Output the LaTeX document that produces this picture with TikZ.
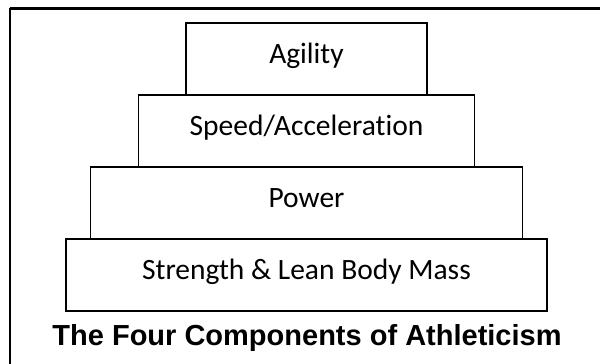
\documentclass[tikz,border=0pt]{standalone}
\usepackage{fontspec}
\setmainfont{Carlito}[RawFeature=-liga]
\newfontfamily\titlefont{Liberation Sans}
\usetikzlibrary{positioning}

\begin{document}
\begin{tikzpicture}[x=1pt, y=-1pt]

    % --- Global Settings ---
    \tikzset{
        tierbox/.style={draw, line width=1.3pt, inner sep=0pt, outer sep=0pt,
                        font=\fontsize{29.5}{34}\selectfont,
                        text height=40pt, text depth=32pt},
        captiontext/.style={font=\titlefont\bfseries\fontsize{29}{34}\selectfont}
    }

    \useasboundingbox (0,0) rectangle (600,364);

    % --- Frame: top and left edges only ---
    \draw[line width=2.2pt] (9.5,8.5) -- (600,8.5);
    \draw[line width=1.1pt] (10,8) -- (10,364);

    % --- Pyramid, bottom tier first ---
    \node[tierbox, anchor=north, minimum width=481pt] (strength) at (306.5,239) {Strength \& Lean Body Mass};
    \node[tierbox, above=0pt of strength, minimum width=432pt] (power) {Power};
    \node[tierbox, above=0pt of power, minimum width=336pt] (speed) {Speed/Acceleration};
    \node[tierbox, above=0pt of speed, minimum width=241pt] (agility) {Agility};

    % --- Caption ---
    \node[captiontext, anchor=base] (caption) at (307,345) {The Four Components of Athleticism};

\end{tikzpicture}
\end{document}
